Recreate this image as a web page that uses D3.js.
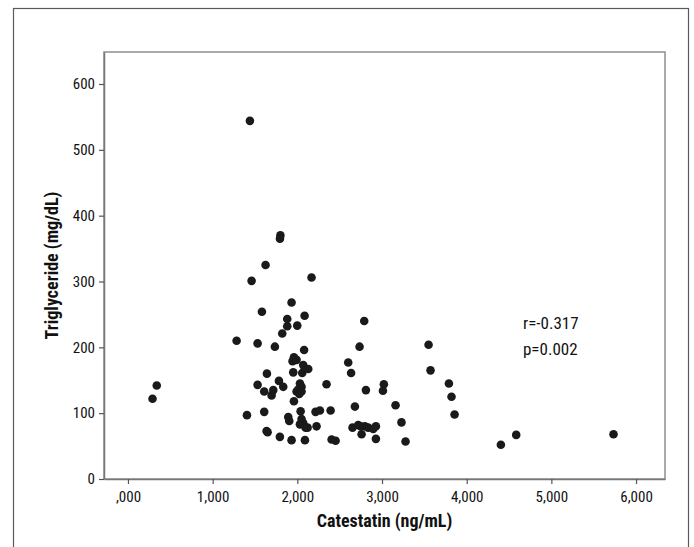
<!DOCTYPE html>
<html>
<head>
<meta charset="utf-8">
<script src="https://cdn.jsdelivr.net/npm/d3@7"></script>
<style>
  body { margin: 0; background: #fff; }
  svg text { font-family: "Liberation Sans Narrow", "Arial Narrow", "Roboto Condensed", sans-serif; fill: #111; }
</style>
</head>
<body>
<svg></svg>
<script>
// catestatin (ng/mL) vs triglyceride (mg/dL)
let catestatin = [
    290, 340, 1440, 1800, 1795, 1625, 1460, 2168, 1932, 1582,
    2086, 1881, 1881, 1999, 1822, 2790, 1283, 1531, 1735, 2080,
    2735, 3550, 1960, 1991, 1944, 2601, 2070, 2129, 2058, 1952,
    2635, 1641, 3573, 1783, 1531, 2345, 1834, 1716, 1696, 1609,
    2031, 2050, 2011, 1991, 2050, 2023, 2810, 3022, 3011, 3790,
    3821, 1960, 2680, 3160, 1405, 1609, 2039, 2215, 2267, 2393,
    3857, 1893, 1905, 2050, 2070, 2031, 2098, 2121, 2227, 3230,
    2652, 2719, 2747, 2798, 2837, 2896, 2928, 2759, 1637, 1649,
    1794, 1932, 2090, 2405, 2452, 2928, 3278, 4404, 4585, 5734
];
let triglyceride = [
    122, 142, 544, 370, 365, 325, 301, 306, 268, 254,
    248, 243, 232, 233, 221, 240, 210, 206, 201, 196,
    201, 204, 185, 181, 179, 177, 173, 167, 161, 162,
    161, 160, 165, 149, 143, 144, 140, 135, 127, 133,
    145, 140, 136, 133, 133, 129, 135, 144, 134, 145,
    125, 118, 110, 112, 97, 102, 103, 102, 104, 104,
    98, 94, 88, 91, 85, 83, 78, 78, 80, 86,
    78, 82, 80, 80, 78, 76, 80, 68, 73, 71,
    64, 59, 59, 60, 58, 61, 57, 52, 67, 68
];
let xTicks = [0, 1000, 2000, 3000, 4000, 5000, 6000];
let yTicks = [0, 100, 200, 300, 400, 500, 600];
let statLines = ["r=-0.317", "p=0.002"];

let svg = d3.select("svg").attr("width", 694).attr("height", 547);

let plot = {left: 104, top: 52, right: 665, bottom: 479};

let x = d3.scaleLinear().domain([-283, 6342]).range([plot.left, plot.right]),
    y = d3.scaleLinear().domain([0, 648.6]).range([plot.bottom, plot.top]);

// outer frame (open at the bottom edge of the picture)
svg.append("rect")
    .attr("x", 13.5).attr("y", 8.5)
    .attr("width", 675).attr("height", 560)
    .attr("fill", "none")
    .attr("stroke", "#5a5a5a")
    .attr("stroke-width", 1.2);

// plot box
svg.append("rect")
    .attr("x", plot.left).attr("y", plot.top)
    .attr("width", plot.right - plot.left).attr("height", plot.bottom - plot.top)
    .attr("fill", "none")
    .attr("stroke", "#8e8e8e")
    .attr("stroke-width", 1.5);

let xAxis = svg.append("g")
    .attr("transform", "translate(0," + plot.bottom + ")")
    .call(d3.axisBottom(x)
        .tickValues(xTicks)
        .tickSize(5)
        .tickSizeOuter(0)
        .tickFormat(function(d) { return d === 0 ? ",000" : d3.format(",")(d); }));

let yAxis = svg.append("g")
    .attr("transform", "translate(" + plot.left + ",0)")
    .call(d3.axisLeft(y)
        .tickValues(yTicks)
        .tickSize(5)
        .tickSizeOuter(0));

[xAxis, yAxis].forEach(function(a) {
    a.select(".domain").attr("stroke", "#777").attr("stroke-width", 1.5);
    a.selectAll(".tick line").attr("stroke", "#555").attr("stroke-width", 1.2);
    a.selectAll(".tick text").style("font-size", "15px").attr("fill", "#111");
});
xAxis.selectAll(".tick text").attr("dy", "1.0em");
yAxis.selectAll(".tick text").attr("x", -9);

// points
svg.append("g").selectAll("circle")
    .data(d3.range(catestatin.length))
    .enter().append("circle")
    .attr("cx", function(i) { return x(catestatin[i]); })
    .attr("cy", function(i) { return y(triglyceride[i]); })
    .attr("r", 4.3)
    .attr("fill", "#1a1a1a");

// correlation annotation
svg.append("g").selectAll("text")
    .data(statLines)
    .enter().append("text")
    .attr("x", x(4665))
    .attr("y", function(d, i) { return y(228) + i * 26; })
    .style("font-size", "17px")
    .text(function(d) { return d; });

// axis titles
svg.append("text")
    .text("Catestatin (ng/mL)")
    .attr("x", (plot.left + plot.right) / 2)
    .attr("y", 527)
    .attr("text-anchor", "middle")
    .style("font-size", "18px")
    .style("font-weight", "bold");

svg.append("text")
    .text("Triglyceride (mg/dL)")
    .attr("transform", "translate(58," + (plot.top + plot.bottom) / 2 + ") rotate(-90)")
    .attr("text-anchor", "middle")
    .style("font-size", "18px")
    .style("font-weight", "bold");
</script>
</body>
</html>
